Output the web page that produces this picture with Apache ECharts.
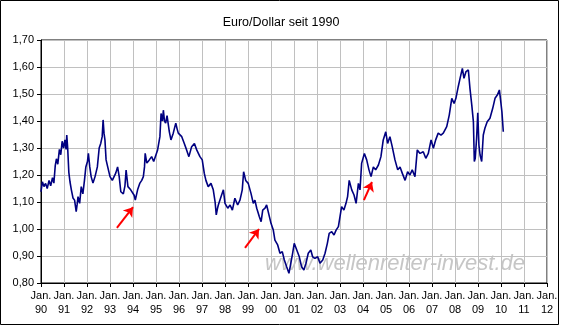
<!DOCTYPE html>
<html><head><meta charset="utf-8">
<script src="https://cdn.jsdelivr.net/npm/echarts@6/dist/echarts.min.js"></script>
<style>html,body{margin:0;padding:0;background:#fff}#c{width:562px;height:329px}</style>
</head><body><div id="c"></div>
<script>
const titleText = 'Euro/Dollar seit 1990';
const watermarkText = 'www.wellenreiter-invest.de';
const xTickLabels = ['Jan.\n90','Jan.\n91','Jan.\n92','Jan.\n93','Jan.\n94','Jan.\n95','Jan.\n96','Jan.\n97','Jan.\n98','Jan.\n99','Jan.\n00','Jan.\n01','Jan.\n02','Jan.\n03','Jan.\n04','Jan.\n05','Jan.\n06','Jan.\n07','Jan.\n08','Jan.\n09','Jan.\n10','Jan.\n11','Jan.\n12'];
const dates = [1990.00,1990.06,1990.13,1990.20,1990.27,1990.35,1990.42,1990.50,1990.56,1990.62,1990.67,1990.73,1990.80,1990.86,1990.92,1990.98,
1991.04,1991.09,1991.12,1991.16,1991.21,1991.26,1991.32,1991.39,1991.46,1991.53,1991.57,1991.61,1991.68,1991.75,1991.82,1991.89,1991.95,
1992.02,1992.06,1992.12,1992.18,1992.26,1992.35,1992.45,1992.53,1992.60,1992.66,1992.70,1992.74,1992.78,1992.83,1992.90,
1993.00,1993.10,1993.25,1993.33,1993.40,1993.47,1993.58,1993.65,1993.70,1993.78,1993.90,1993.98,
1994.05,1994.10,1994.20,1994.30,1994.38,1994.45,1994.50,1994.53,1994.60,1994.70,1994.81,1994.90,1994.96,
1995.07,1995.17,1995.22,1995.28,1995.32,1995.37,1995.42,1995.48,1995.53,1995.58,1995.65,1995.75,1995.86,1995.92,1995.97,
1996.05,1996.12,1996.23,1996.33,1996.43,1996.55,1996.67,1996.77,1996.91,
1997.01,1997.10,1997.17,1997.27,1997.39,1997.49,1997.57,1997.62,1997.67,1997.71,1997.83,1997.93,
1998.00,1998.12,1998.22,1998.32,1998.43,1998.55,1998.65,1998.75,1998.81,1998.90,
1999.01,1999.13,1999.23,1999.30,1999.38,1999.49,1999.57,1999.64,1999.74,1999.81,1999.93,
2000.00,2000.10,2000.17,2000.29,2000.39,2000.49,2000.58,2000.68,2000.78,2000.86,2000.94,
2001.01,2001.12,2001.23,2001.33,2001.43,2001.52,2001.62,2001.73,2001.81,2001.91,
2002.03,2002.13,2002.25,2002.35,2002.45,2002.53,2002.64,2002.74,2002.83,2002.93,
2003.00,2003.07,2003.17,2003.26,2003.33,2003.40,2003.51,2003.61,2003.70,2003.80,2003.87,2003.94,
2004.06,2004.16,2004.26,2004.35,2004.45,2004.55,2004.67,2004.78,2004.88,2004.99,
2005.07,2005.17,2005.27,2005.39,2005.51,2005.61,2005.71,2005.83,2005.94,
2006.04,2006.14,2006.26,2006.36,2006.48,2006.62,2006.73,2006.84,2006.96,
2007.06,2007.16,2007.27,2007.39,2007.49,2007.64,2007.75,2007.86,2007.96,
2008.04,2008.14,2008.22,2008.32,2008.39,2008.48,2008.58,2008.65,2008.73,2008.80,2008.84,2008.88,2008.94,2008.99,
2009.04,2009.09,2009.16,2009.23,2009.30,2009.40,2009.52,2009.64,2009.74,2009.84,2009.93,2009.99,
2010.04,2010.10];
const rates = [1.138,1.175,1.157,1.169,1.15,1.18,1.16,1.19,1.17,1.235,1.26,1.24,1.295,1.275,1.325,1.30,
1.33,1.295,1.348,1.30,1.21,1.175,1.145,1.115,1.107,1.064,1.09,1.12,1.095,1.157,1.13,1.18,1.23,
1.25,1.28,1.23,1.194,1.17,1.194,1.23,1.30,1.318,1.342,1.404,1.355,1.33,1.256,1.23,
1.194,1.18,1.207,1.23,1.194,1.138,1.13,1.16,1.218,1.157,1.145,1.138,
1.125,1.107,1.145,1.17,1.18,1.194,1.23,1.28,1.244,1.255,1.268,1.25,1.25,
1.293,1.342,1.428,1.40,1.44,1.40,1.392,1.42,1.416,1.36,1.33,1.355,1.392,1.37,1.355,
1.35,1.342,1.317,1.293,1.268,1.305,1.317,1.293,1.268,
1.256,1.206,1.18,1.157,1.169,1.145,1.10,1.052,1.075,1.089,1.12,1.145,
1.095,1.077,1.089,1.07,1.114,1.089,1.107,1.145,1.212,1.18,
1.169,1.132,1.095,1.107,1.077,1.046,1.027,1.07,1.077,1.089,1.046,
1.021,0.996,0.959,0.941,0.91,0.916,0.885,0.86,0.836,0.873,0.91,
0.947,0.922,0.897,0.86,0.848,0.873,0.91,0.922,0.897,0.891,
0.897,0.873,0.885,0.91,0.947,0.984,0.99,0.978,0.996,1.009,
1.046,1.083,1.07,1.095,1.12,1.18,1.145,1.126,1.095,1.169,1.145,1.243,
1.28,1.256,1.219,1.194,1.23,1.219,1.237,1.268,1.33,1.36,
1.317,1.342,1.305,1.256,1.219,1.23,1.206,1.18,1.212,
1.20,1.219,1.194,1.293,1.28,1.286,1.262,1.28,1.33,
1.299,1.33,1.355,1.348,1.355,1.379,1.422,1.484,1.465,
1.484,1.527,1.558,1.595,1.558,1.583,1.589,1.521,1.459,1.397,1.25,1.262,1.336,1.43,
1.311,1.274,1.25,1.348,1.373,1.397,1.41,1.447,1.484,1.496,1.515,1.472,
1.434,1.36];
const arrowStarts = [[1993.30,1.004],[1998.87,0.930],[2004.04,1.107]];
const arrowEnds = [[1994.00,1.081],[1999.48,1.000],[2004.39,1.174]];

const chart = echarts.init(document.getElementById('c'), null, {renderer:'canvas'});
const FONT = '"Liberation Sans", Arial, sans-serif';
chart.setOption({
  animation:false,
  backgroundColor:'#fff',
  title:{text:titleText,left:'center',top:11,textStyle:{fontFamily:FONT,fontSize:12.5,fontWeight:'normal',color:'#000'}},
  grid:{left:41,top:40,right:15,bottom:46,show:true,borderColor:'#000',borderWidth:1,backgroundColor:'transparent'},
  graphic:[
    {type:'rect',left:0,top:0,z:-10,shape:{x:0.5,y:0.5,width:558,height:324},style:{fill:'#fff',stroke:'#000',lineWidth:1},silent:true},
    {type:'text',left:265,top:253,z:-5,style:{text:watermarkText,font:'italic 22px '+FONT,fill:'#c6c6c6'},silent:true}
  ],
  xAxis:{type:'value',min:1990,max:2012,interval:1,
    axisLine:{lineStyle:{color:'#000',width:1}},
    axisTick:{show:true,length:4,lineStyle:{color:'#000'}},
    axisLabel:{fontFamily:FONT,fontSize:11,color:'#000',margin:6,lineHeight:14,
      formatter:v=>xTickLabels[Math.round(v-1990)]},
    splitLine:{show:true,lineStyle:{color:'#c0c0c0',width:1}}},
  yAxis:{type:'value',min:0.8,max:1.7,interval:0.1,
    axisLine:{show:true,lineStyle:{color:'#000',width:1}},
    axisTick:{show:true,length:4,lineStyle:{color:'#000'}},
    axisLabel:{fontFamily:FONT,fontSize:11,color:'#000',margin:7,formatter:v=>v.toFixed(2).replace('.',',')},
    splitLine:{show:true,lineStyle:{color:'#c0c0c0',width:1}}},
  series:[{
    type:'line',data:dates.map((d,i)=>[d,rates[i]]),showSymbol:false,symbol:'none',
    lineStyle:{color:'#000080',width:1.6},z:3,
    markLine:{silent:true,symbol:['none','arrow'],symbolSize:9,
      label:{show:false},lineStyle:{color:'#ff0000',width:2,type:'solid'},
      emphasis:{disabled:true},
      data:arrowStarts.map((s,i)=>[{coord:s},{coord:arrowEnds[i]}])}
  }]
});
</script></body></html>
